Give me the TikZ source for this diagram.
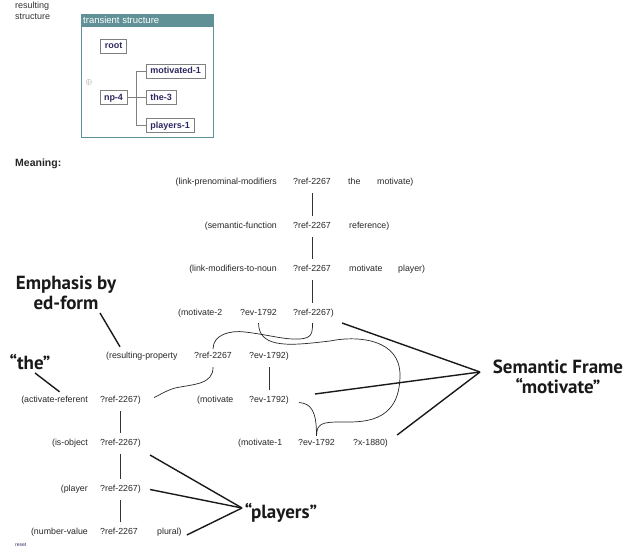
\documentclass[tikz,border=0pt]{standalone}
\usepackage{fontspec}
\setmainfont{Liberation Sans}
\newfontfamily\bigfont{PT Sans}
\usetikzlibrary{calc}
\definecolor{tsteal}{RGB}{95,145,150}
\definecolor{unitnavy}{RGB}{45,40,95}

\begin{document}
\begin{tikzpicture}[x=1pt, y=-1pt,
  tok/.style={anchor=base west, inner sep=0pt, text height=7pt, text depth=2pt,
    font=\fontsize{8.8}{10}\selectfont, text=black!85},
  head/.style={tok, anchor=base east},
  big/.style={font=\bigfont\bfseries\fontsize{19}{20}\selectfont, align=center, inner sep=0pt, text=black!90},
  unit/.style={draw=gray, line width=0.8pt, inner xsep=4pt, inner ysep=3pt, text height=7pt, text depth=1pt,
    font=\bfseries\fontsize{9}{10}\selectfont, text=unitnavy},
  link/.style={line width=0.7pt, black!80},
  bind/.style={line width=0.7pt, black!85},
  pointer/.style={line width=1.4pt, black!90}]
  \useasboundingbox (0,0) rectangle (625,556);

  \node[anchor=base west, inner sep=0pt, align=left, font=\fontsize{9}{11}\selectfont, text=black!80] (rs) at (15,20) {resulting\\structure};
  \draw[tsteal, line width=0.9pt] (81,14) rectangle (213,137);
  \fill[tsteal] (81,14) rectangle (213,27);
  \node[anchor=base west, inner sep=0pt, font=\fontsize{9.5}{10}\selectfont, text=white] (ts) at (83,24) {transient structure};
  \node[unit] (root) at (113.5,46) {root};
  \node[unit] (np) at (113.5,97.5) {np-4};
  \node[unit, anchor=west] (mot) at (146,71) {motivated-1};
  \node[unit, anchor=west] (the3) at (146,97.5) {the-3};
  \node[unit, anchor=west] (pl) at (146,125.5) {players-1};
  \node[inner sep=0pt, text=black!55, font=\fontsize{8}{8}\selectfont] (plus) at (89,83) {$\oplus$};
  \draw[gray, line width=0.7pt] (np.east) -- (the3.west);
  \draw[gray, line width=0.7pt] (mot.west) -| ($(np.east)!0.5!(the3.west)$) |- (pl.west);

  \node[anchor=base west, inner sep=0pt, font=\bfseries\fontsize{10.5}{12}\selectfont, text=black!85] (mean) at (15,167) {Meaning:};

  \node[head] (p1) at (277,185) {(link-prenominal-modifiers};
  \node[tok] (r1) at (293,185) {?ref-2267};
  \node[tok] (a1) at (348,185) {the};
  \node[tok] (b1) at (377,185) {motivate)};
  \node[head] (p2) at (277,229) {(semantic-function};
  \node[tok] (r2) at (293,229) {?ref-2267};
  \node[tok] (a2) at (349,229) {reference)};
  \node[head] (p3) at (277,272) {(link-modifiers-to-noun};
  \node[tok] (r3) at (293,272) {?ref-2267};
  \node[tok] (a3) at (349,272) {motivate};
  \node[tok] (b3) at (398,272) {player)};
  \node[tok] (p4) at (178,316) {(motivate-2};
  \node[tok] (e4) at (240,316) {?ev-1792};
  \node[tok] (r4) at (293,316) {?ref-2267)};
  \node[tok] (res) at (106,359) {(resulting-property};
  \node[tok] (r5) at (194,359) {?ref-2267};
  \node[tok] (e5) at (249,359) {?ev-1792)};
  \node[head] (act) at (88,403) {(activate-referent};
  \node[tok] (r6) at (100,403) {?ref-2267)};
  \node[tok] (mv) at (197,403) {(motivate};
  \node[tok] (e6) at (249,403) {?ev-1792)};
  \node[head] (obj) at (88,446) {(is-object};
  \node[tok] (r7) at (100,446) {?ref-2267)};
  \node[tok] (m1) at (238,446) {(motivate-1};
  \node[tok] (e7) at (298,446) {?ev-1792};
  \node[tok] (x7) at (353,446) {?x-1880)};
  \node[head] (ply) at (88,492) {(player};
  \node[tok] (r8) at (100,492) {?ref-2267)};
  \node[head] (num) at (88,535) {(number-value};
  \node[tok] (r9) at (100,535) {?ref-2267};
  \node[tok] (plural) at (157,535) {plural)};

  \draw[link] ($(r1.south)+(0,6)$) -- ($(r1.south |- r2.north)+(0,-6)$);
  \draw[link] ($(r2.south)+(0,6)$) -- ($(r2.south |- r3.north)+(0,-6)$);
  \draw[link] ($(r3.south)+(0,6)$) -- ($(r3.south |- r4.north)+(0,-6)$);
  \draw[link] ($(r6.south)+(0,6)$) -- ($(r6.south |- r7.north)+(0,-6)$);
  \draw[link] ($(r7.south)+(0,6)$) -- ($(r7.south |- r8.north)+(0,-6)$);
  \draw[link] ($(r8.south)+(0,6)$) -- ($(r8.south |- r9.north)+(0,-6)$);
  \draw[link] ($(e5.south)+(0,6)$) -- ($(e6.north)+(0,-6)$);

  \draw[bind] ($(e4.south)+(0,5)$) .. controls +(0,27) and +(-35,4) .. (330,341)
    .. controls +(30,-6) and +(0,-35) .. (400,375)
    .. controls +(0,50) and +(20,0) .. (340,422)
    .. controls +(-18,0) and +(0,-12) .. ($(e7.north)+(0,-3)$);
  \draw[bind] ($(r5.north)+(0,-3)$) .. controls +(0,-14) and +(-15,-2) .. (245,332)
    .. controls +(25,3) and +(-15,1) .. (300,339)
    .. controls +(12,-1) and +(0,10) .. ($(r4.south)+(-1,5)$);
  \draw[bind] ($(r5.south)+(0,6)$) .. controls +(0,17) and +(20,-4) .. (175,388)
    .. controls +(-10,3) and +(5,-2) .. ($(r6.east)+(13,-3)$);
  \draw[bind] ($(e6.east)+(10,2)$) .. controls +(12,1) and +(0,-25) .. ($(e7.north)+(0,-3)$);

  \node[big] (emph) at (66,293) {Emphasis by\\ed-form};
  \node[big] (the) at (30,362) {“the”};
  \node[big] (players) at (281,513) {“players”};
  \node[big] (frame) at (558,377) {Semantic Frame\\“motivate”};

  \draw[pointer] ($(emph.center)+(34,20)$) -- ($(res.north west)+(14,-5)$);
  \draw[pointer] ($(the.center)+(5,11)$) -- ($(act.north)+(5,-4)$);
  \draw[pointer] ($(frame.center)+(-78,-5)$) -- ($(r4.east)+(8,9.5)$);
  \draw[pointer] ($(frame.center)+(-78,-5)$) -- ($(e6.east)+(26,-6.5)$);
  \draw[pointer] ($(frame.center)+(-78,-5)$) -- ($(x7.east)+(9,-8.5)$);
  \draw[pointer] ($(players.center)+(-39,-5)$) -- ($(r7.east)+(9,11.5)$);
  \draw[pointer] ($(players.center)+(-39,-5)$) -- ($(r8.east)+(9,0)$);
  \draw[pointer] ($(players.center)+(-39,-5)$) -- ($(plural.east)+(5,2.5)$);

  \node[anchor=base west, inner sep=0pt, font=\fontsize{5}{6}\selectfont, text=unitnavy] (reset) at (15,547) {reset};
\end{tikzpicture}
\end{document}
